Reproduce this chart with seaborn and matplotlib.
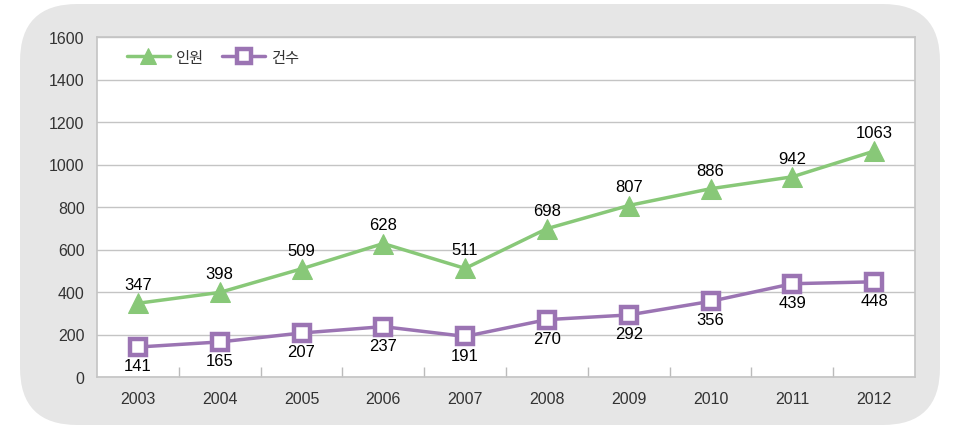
import pandas as pd
import matplotlib
matplotlib.use("Agg")
import matplotlib.pyplot as plt
import seaborn as sns
from matplotlib.patches import FancyBboxPatch

# data
years = ["2003", "2004", "2005", "2006", "2007", "2008", "2009", "2010", "2011", "2012"]
people = [347, 398, 509, 628, 511, 698, 807, 886, 942, 1063]   # 인원
cases = [141, 165, 207, 237, 191, 270, 292, 356, 439, 448]     # 건수

green = "#88c878"
purple = "#9b74b3"

sns.set_theme(style="white")
plt.rcParams['font.family'] = ['Liberation Sans', 'Noto Sans CJK KR', 'DejaVu Sans']

df = pd.DataFrame({"year": years, "인원": people, "건수": cases})
df["x"] = range(len(years))

fig = plt.figure(figsize=(9.55, 4.31), dpi=100)

# rounded grey panel behind everything
panel = FancyBboxPatch((20 / 955, 5 / 431), 920 / 955, 421 / 431,
                       boxstyle="round,pad=0,rounding_size=0.06",
                       transform=fig.transFigure, facecolor="#e6e6e6",
                       edgecolor="none", zorder=-5, mutation_aspect=955 / 431)
fig.patches.append(panel)

ax = fig.add_axes([97 / 955, 1 - 378 / 431, (915 - 97) / 955, (378 - 38) / 431])
ax.set_zorder(1)
ax.set_facecolor("white")

sns.lineplot(data=df, x="x", y="인원", ax=ax, color=green, linewidth=2.5,
             marker="^", markersize=14, markeredgecolor=green, label="인원")
sns.lineplot(data=df, x="x", y="건수", ax=ax, color=purple, linewidth=2.5,
             marker="s", markersize=11.5, markerfacecolor="white",
             markeredgecolor=purple, markeredgewidth=3.2, label="건수")

for i, (p, c) in enumerate(zip(people, cases)):
    ax.annotate(str(p), (i, p), xytext=(0, 8), textcoords="offset points",
                ha="center", va="bottom", fontsize=12, color="black")
    ax.annotate(str(c), (i, c), xytext=(0, -8), textcoords="offset points",
                ha="center", va="top", fontsize=12, color="black")

ax.set_xlim(-0.5, len(years) - 0.5)
ax.set_ylim(0, 1600)
ax.set_yticks(range(0, 1601, 200))
ax.set_xticks(df["x"])
ax.set_xticklabels(years)
ax.set_xticks([i + 0.5 for i in range(len(years) - 1)], minor=True)
ax.tick_params(axis="x", which="major", length=0, pad=10, labelsize=11.5, colors="#333333")
ax.tick_params(axis="x", which="minor", length=7, direction="in", color="#bbbbbb", bottom=True)
ax.tick_params(axis="y", length=0, pad=9, labelsize=11.5, colors="#333333")
ax.set_xlabel("")
ax.set_ylabel("")
ax.yaxis.grid(True, color="#c4c4c4", linewidth=1)
ax.set_axisbelow(True)
for s in ax.spines.values():
    s.set_color("#c4c4c4")
    s.set_linewidth(1.2)

leg = ax.legend(loc="upper left", ncol=2, frameon=False, fontsize=11,
                handlelength=2.8, columnspacing=1.2, handletextpad=0.4,
                bbox_to_anchor=(0.02, 1.0), markerscale=0.85)
for t in leg.get_texts():
    t.set_color("#333333")

fig.savefig("out.png", dpi=100, facecolor="white")
